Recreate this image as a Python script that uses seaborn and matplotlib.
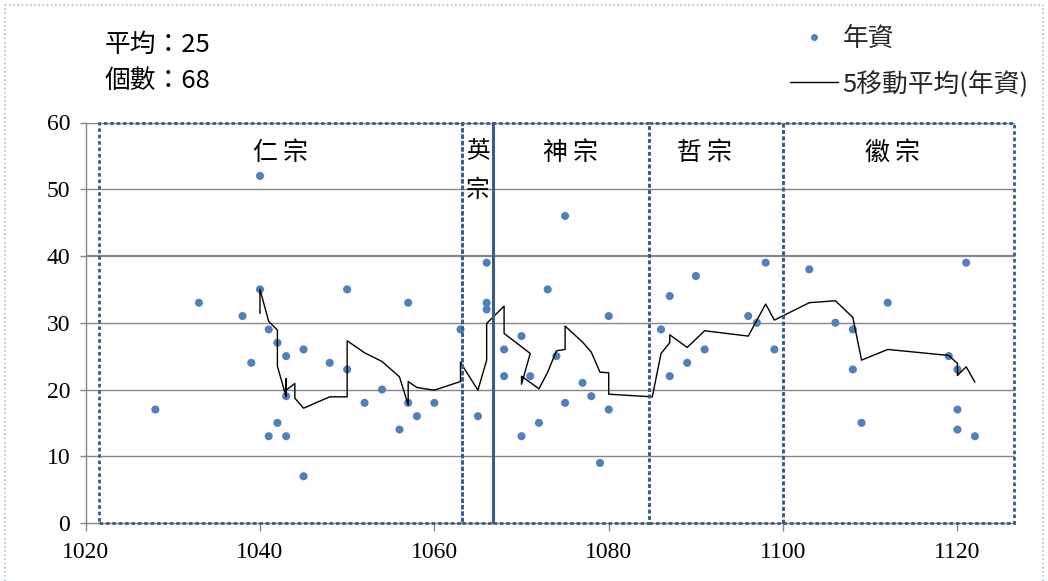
import numpy as np
import pandas as pd
import matplotlib
matplotlib.use("Agg")
import matplotlib.pyplot as plt
import seaborn as sns
from matplotlib.patches import Rectangle
from matplotlib.lines import Line2D

# ---------------- data ----------------
years = [1028, 1033, 1038, 1039, 1040, 1040, 1041, 1041, 1042, 1042,
         1043, 1043, 1043, 1045, 1045, 1048, 1050, 1050, 1052, 1054,
         1056, 1057, 1057, 1058, 1060, 1063, 1065, 1066, 1066, 1066,
         1068, 1068, 1070, 1070, 1071, 1072, 1073, 1074, 1075, 1075,
         1077, 1078, 1079, 1080, 1080, 1086, 1087, 1087, 1089, 1090,
         1091, 1096, 1097, 1098, 1099, 1103, 1106, 1108, 1108, 1109,
         1112, 1119, 1120, 1120, 1120, 1121, 1122]
salary = [17, 33, 31, 24, 52, 35, 29, 13, 27, 15,
          25, 19, 13, 26, 7, 24, 35, 23, 18, 20,
          14, 33, 18, 16, 18, 29, 16, 39, 33, 32,
          26, 22, 28, 13, 22, 15, 35, 25, 46, 18,
          21, 19, 9, 31, 17, 29, 34, 22, 24, 37,
          26, 31, 30, 39, 26, 38, 30, 29, 23, 15,
          33, 25, 23, 17, 14, 39, 13]

# 5-point moving average line (vertices as drawn in the source chart)
ma_years = [1040, 1040, 1041, 1042, 1042, 1043, 1043, 1043, 1044, 1044,
            1045, 1048, 1050, 1050, 1052, 1054, 1056, 1057, 1057, 1058,
            1060, 1063, 1063, 1063.5, 1065, 1066, 1066, 1068, 1068, 1071,
            1070, 1070, 1072, 1073, 1074, 1075, 1075, 1077, 1078, 1079,
            1080, 1080, 1085, 1086, 1087, 1087, 1089, 1091, 1096, 1098,
            1099, 1103, 1106, 1108, 1109, 1112, 1119, 1120, 1120, 1121,
            1122]
ma_values = [31.4, 35.0, 30.2, 28.9, 23.5, 18.9, 21.6, 19.9, 20.9, 18.7,
             17.2, 18.9, 18.9, 27.3, 25.5, 24.2, 21.9, 17.7, 21.2, 20.3,
             19.9, 21.2, 24.1, 23.0, 19.9, 24.4, 29.9, 32.5, 28.4, 25.4,
             20.8, 22.0, 20.1, 22.6, 25.8, 26.0, 29.5, 27.1, 25.6, 22.6,
             22.5, 19.3, 18.9, 25.4, 27.0, 28.2, 26.3, 28.8, 28.0, 32.8,
             30.4, 33.0, 33.3, 30.8, 24.4, 26.0, 25.1, 23.9, 22.1, 23.4,
             21.1]

reign_names = ["仁宗", "英宗", "神宗", "哲宗", "徽宗"]
reign_starts = [1021.5, 1063.2, 1066.7, 1084.6, 1100.0]
reign_ends = [1063.2, 1066.7, 1084.6, 1100.0, 1126.5]

x_ticks = [1020, 1040, 1060, 1080, 1100, 1120]
y_ticks = [0, 10, 20, 30, 40, 50, 60]

stat_mean = "平均：25"
stat_count = "個數：68"
legend_points = "年資"
legend_line = "5移動平均(年資)"

# ---------------- style ----------------
sns.set_theme(style="white")
plt.rcParams["font.family"] = ["Noto Sans CJK TC", "DejaVu Sans"]

W, H = 1048, 581
fig = plt.figure(figsize=(W / 100, H / 100), dpi=100)
fig.patch.set_facecolor("white")

left_px, right_px, top_px, bottom_px = 85.6, 1015.0, 122.5, 523.0
ax = fig.add_axes([left_px / W, 1 - bottom_px / H,
                   (right_px - left_px) / W, (bottom_px - top_px) / H])
ax.set_facecolor("white")

GRID = "#868686"
BOX = "#385D8A"
DOT = "#4F81BD"

ax.set_xlim(1020, 1126.6)
ax.set_ylim(0, 60)

# gridlines
for v in y_ticks[1:]:
    ax.axhline(v, color=GRID, lw=1.6 if v == 40 else 1.0, zorder=0.5)

df_pts = pd.DataFrame({"year": years, "salary": salary})
df_ma = pd.DataFrame({"year": ma_years, "ma": ma_values})

sns.scatterplot(data=df_pts, x="year", y="salary", ax=ax, color=DOT, s=34,
                edgecolor="none", zorder=3, legend=False)
sns.lineplot(data=df_ma, x="year", y="ma", ax=ax, sort=False, estimator=None,
             color="black", lw=1.0, zorder=4, legend=False)

# reign boxes
dash = (0, (1.3, 1.0))
for s, e in zip(reign_starts, reign_ends):
    ax.add_patch(Rectangle((s, 0), e - s, 60, fill=False, edgecolor=BOX,
                           lw=2.0, linestyle=dash, clip_on=False, zorder=5))
ax.plot([reign_starts[2], reign_starts[2]], [0, 60], color=BOX, lw=2.2,
        solid_capstyle="butt", clip_on=False, zorder=6)

# reign labels
label_x = [1042.3, 1065.0, 1075.6, 1091.0, 1112.6]
for name, lx in zip(reign_names, label_x):
    if name == "英宗":
        ax.text(lx, 55.8, name[0], ha="center", va="center", fontsize=17, color="black")
        ax.text(lx, 49.8, name[1], ha="center", va="center", fontsize=17, color="black")
    else:
        ax.text(lx, 55.5, name[0] + "\u2009" + name[1], ha="center", va="center",
                fontsize=18, color="black", family=["Noto Sans CJK TC", "DejaVu Sans"])

# axes styling
ax.set_xticks(x_ticks)
ax.set_yticks(y_ticks)
ax.set_xlabel("")
ax.set_ylabel("")
for sp in ["top", "right"]:
    ax.spines[sp].set_visible(False)
for sp in ["left", "bottom"]:
    ax.spines[sp].set_visible(True)
    ax.spines[sp].set_color(GRID)
    ax.spines[sp].set_linewidth(1.0)
ax.tick_params(axis="x", direction="out", length=6, width=1, color=GRID, pad=8,
               bottom=True)
ax.tick_params(axis="y", direction="out", length=4, width=1, color=GRID, pad=7,
               left=True)
for lab in ax.get_xticklabels() + ax.get_yticklabels():
    lab.set_fontfamily(["Liberation Serif", "DejaVu Serif"])
    lab.set_fontsize(17)
    lab.set_color("black")

# stats text
fig.text(105 / W, 1 - 45 / H, stat_mean, ha="left", va="center", fontsize=18.5, color="black")
fig.text(105 / W, 1 - 81 / H, stat_count, ha="left", va="center", fontsize=18.5, color="black")

# legend
h_pts = Line2D([], [], linestyle="none", marker="o", markersize=5,
               markerfacecolor=DOT, markeredgecolor="none")
h_line = Line2D([], [], color="black", lw=1.0)
fig.legend([h_pts, h_line], [legend_points, legend_line], loc="upper left",
           bbox_to_anchor=(790 / W, 1 - 26 / H), frameon=False, fontsize=18.5,
           handlelength=1.85, handletextpad=0.2, labelspacing=0.72,
           borderaxespad=0, borderpad=0)

# outer chart-area border (light blue dotted)
bc = "#A8C2E6"
fig.add_artist(Line2D([5 / W, 1043 / W], [1 - 5 / H, 1 - 5 / H], color=bc, lw=1.2,
                      linestyle=(0, (1, 1.5)), transform=fig.transFigure))
fig.add_artist(Line2D([5 / W, 5 / W], [0, 1 - 5 / H], color=bc, lw=1.2,
                      linestyle=(0, (1, 1.5)), transform=fig.transFigure))
fig.add_artist(Line2D([1043 / W, 1043 / W], [0, 1 - 5 / H], color=bc, lw=1.2,
                      linestyle=(0, (1, 1.5)), transform=fig.transFigure))

fig.savefig("out.png", dpi=100)
